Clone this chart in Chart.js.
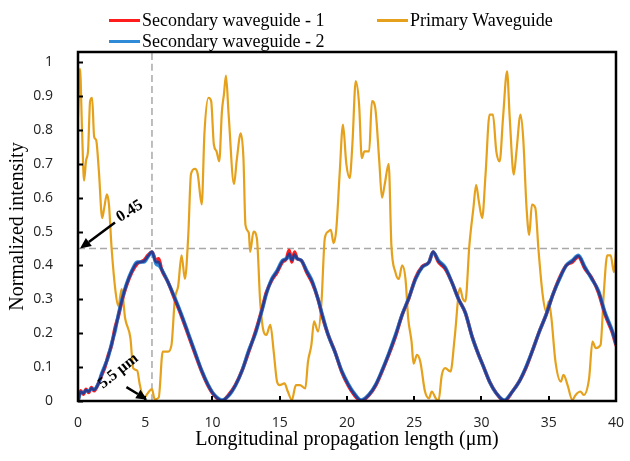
<!DOCTYPE html>
<html><head><meta charset="utf-8">
<script src="https://cdn.jsdelivr.net/npm/chart.js@4.4.1/dist/chart.umd.min.js"></script>
<style>
html,body{margin:0;padding:0;background:#fff;}
#wrap{position:relative;width:630px;height:461px;}
#c{position:absolute;left:0;top:0;}
.lg{position:absolute;font-family:"Liberation Serif","Times New Roman",serif;font-size:18px;color:#000;white-space:nowrap;line-height:20px;height:20px;}
.sw{display:inline-block;width:31px;height:3px;vertical-align:middle;margin-right:2px;position:relative;top:-1px;}
</style></head><body>
<div id="wrap"><canvas id="c" width="630" height="461"></canvas><div id="legend"></div></div>
<script>
// ---- data ----
const seriesNames = ["Secondary waveguide - 1", "Primary Waveguide", "Secondary waveguide - 2"];
const xTickValues = [0,5,10,15,20,25,30,35,40];
const yTickValues = [0,0.1,0.2,0.3,0.4,0.5,0.6,0.7,0.8,0.9,1];
const refLevel = 0.45;
const refX = 5.5;

const primaryX = [0,0.15,0.3,0.45,0.6,0.75,0.9,1.05,1.2,1.35,1.55,1.8,1.95,2.15,2.3,2.5,2.8,3.0,3.25,3.5,3.9,4.1,4.4,4.6,4.9,5.1,5.5,5.7,6.0,6.3,6.7,6.95,7.2,7.45,7.7,7.95,8.2,8.4,8.7,8.9,9.2,9.4,9.7,9.9,10.1,10.3,10.5,10.7,10.85,11.0,11.2,11.6,11.8,12.1,12.3,12.45,12.7,12.8,13.05,13.3,13.55,13.8,14.0,14.3,14.55,14.8,15.0,15.35,15.6,15.9,16.2,16.5,16.9,17.1,17.35,17.55,17.85,18.1,18.35,18.6,18.8,19.0,19.2,19.45,19.7,19.95,20.2,20.4,20.65,20.9,21.1,21.3,21.65,21.85,22.1,22.4,22.6,22.8,23.1,23.3,23.6,23.85,24.1,24.35,24.55,24.8,24.95,25.2,25.45,25.8,26.1,26.3,26.6,26.8,27.05,27.3,27.7,28.0,28.4,28.6,28.8,29.1,29.4,29.6,29.8,30.05,30.3,30.6,30.85,31.1,31.35,31.6,31.9,32.1,32.4,32.6,32.9,33.1,33.35,33.55,33.75,34.0,34.25,34.55,34.8,35.0,35.2,35.5,35.9,36.1,36.4,36.75,37.0,37.35,37.6,38.0,38.25,38.5,38.85,39.1,39.35,39.6,39.85,40.0];
const primaryY = [0.84,0.98,0.8,0.65,0.71,0.74,0.885,0.895,0.78,0.77,0.68,0.54,0.57,0.61,0.58,0.45,0.32,0.28,0.33,0.245,0.185,0.097,0.09,0.047,0.008,0.018,0.035,0.005,0.01,0.146,0.146,0.165,0.30,0.34,0.43,0.36,0.49,0.67,0.685,0.67,0.58,0.79,0.895,0.885,0.757,0.737,0.707,0.855,0.905,0.96,0.845,0.64,0.71,0.79,0.717,0.52,0.496,0.44,0.5,0.48,0.29,0.205,0.195,0.225,0.146,0.057,0.047,0.052,0.028,0.003,0.047,0.047,0.037,0.116,0.165,0.235,0.205,0.29,0.48,0.5,0.505,0.466,0.505,0.668,0.816,0.7,0.658,0.757,0.944,0.875,0.717,0.737,0.737,0.885,0.865,0.707,0.6,0.638,0.7,0.46,0.38,0.36,0.40,0.36,0.244,0.175,0.11,0.136,0.116,0.028,0.008,0.028,0.008,0.0,0.077,0.097,0.087,0.185,0.333,0.303,0.294,0.46,0.57,0.638,0.59,0.54,0.668,0.845,0.845,0.737,0.707,0.835,0.973,0.835,0.668,0.737,0.845,0.776,0.57,0.49,0.58,0.57,0.44,0.313,0.264,0.294,0.244,0.116,0.057,0.077,0.047,0.003,0.018,0.028,0.018,0.067,0.175,0.156,0.165,0.323,0.43,0.43,0.38,0.44];

const secX = [0,0.2,0.4,0.6,0.8,1.0,1.2,1.5,1.75,2.0,2.25,2.5,2.75,3.0,3.3,3.6,4.0,4.4,4.9,5.2,5.5,5.8,6.0,6.2,6.7,7.2,7.7,8.2,8.7,9.2,9.65,10.1,10.7,11.2,11.7,12.2,12.7,13.2,13.7,14.0,14.4,14.8,15.2,15.5,15.7,15.9,16.1,16.3,16.6,17.0,17.4,17.85,18.2,18.6,19.1,19.6,20.1,20.5,21.05,21.65,22.15,22.6,23.1,23.6,24.1,24.6,25.1,25.6,26.1,26.4,26.8,27.3,27.8,28.3,28.8,29.3,29.75,30.1,30.6,31.1,31.7,32.3,32.8,33.3,33.8,34.3,34.8,35.3,35.8,36.3,36.75,37.2,37.7,38.2,38.7,39.2,39.7,40];
const sec1 = [0,0.03,0.02,0.035,0.025,0.04,0.03,0.05,0.075,0.1,0.135,0.165,0.215,0.25,0.3,0.34,0.38,0.405,0.415,0.43,0.44,0.415,0.42,0.39,0.35,0.30,0.25,0.195,0.14,0.087,0.047,0.018,0,0.018,0.047,0.09,0.146,0.205,0.274,0.32,0.356,0.38,0.41,0.42,0.445,0.41,0.44,0.42,0.415,0.38,0.35,0.30,0.245,0.195,0.146,0.087,0.045,0.02,0,0.018,0.047,0.087,0.136,0.19,0.254,0.303,0.363,0.397,0.41,0.44,0.41,0.39,0.35,0.30,0.26,0.19,0.14,0.106,0.057,0.023,0,0.028,0.057,0.097,0.15,0.205,0.254,0.313,0.363,0.40,0.41,0.426,0.39,0.363,0.32,0.254,0.205,0.165];
const sec2 = [0,0.025,0.025,0.03,0.03,0.035,0.035,0.05,0.08,0.105,0.13,0.17,0.205,0.255,0.305,0.345,0.385,0.41,0.41,0.425,0.44,0.405,0.40,0.39,0.35,0.305,0.255,0.2,0.145,0.09,0.05,0.02,0.003,0.015,0.045,0.09,0.15,0.2,0.27,0.315,0.36,0.385,0.415,0.42,0.425,0.42,0.425,0.42,0.415,0.385,0.355,0.3,0.25,0.195,0.145,0.09,0.05,0.025,0.003,0.02,0.05,0.09,0.14,0.195,0.255,0.305,0.36,0.395,0.41,0.44,0.415,0.395,0.35,0.3,0.26,0.19,0.14,0.106,0.057,0.023,0.003,0.028,0.057,0.1,0.15,0.205,0.254,0.313,0.36,0.40,0.415,0.43,0.395,0.36,0.325,0.26,0.21,0.17];

// ---- styles ----
const colRed = '#FF1C1C', colOrange = '#E5A11C', colBlue = '#2F8AD8', colNavy = '#2D3A8E', colRef = '#A8A8A8';
const serif = '"Liberation Serif","Times New Roman",serif';
const sans = '"Open Sans","Noto Sans",sans-serif';

const toXY = (xs, ys) => xs.map((x, i) => ({x, y: ys[i]}));
const meanLine = sec1.map((v, i) => (v + sec2[i]) / 2);

// HTML legend
const legendItems = [
  {name: seriesNames[0], color: colRed, left: 109, top: 10},
  {name: seriesNames[1], color: colOrange, left: 377, top: 10},
  {name: seriesNames[2], color: colBlue, left: 109, top: 31}
];
const lgEl = document.getElementById('legend');
legendItems.forEach(it => {
  const d = document.createElement('div');
  d.className = 'lg';
  d.style.left = it.left + 'px'; d.style.top = it.top + 'px';
  const s = document.createElement('span'); s.className = 'sw'; s.style.background = it.color;
  d.appendChild(s); d.appendChild(document.createTextNode(it.name));
  lgEl.appendChild(d);
});

function arrow(ctx, x1, y1, x2, y2) {
  const ang = Math.atan2(y2 - y1, x2 - x1), L = 11, W = 5;
  const bx = x2 - L * Math.cos(ang), by = y2 - L * Math.sin(ang);
  ctx.beginPath(); ctx.moveTo(x1, y1); ctx.lineTo(bx, by); ctx.stroke();
  ctx.beginPath(); ctx.moveTo(x2, y2);
  ctx.lineTo(bx + W * Math.sin(ang), by - W * Math.cos(ang));
  ctx.lineTo(bx - W * Math.sin(ang), by + W * Math.cos(ang));
  ctx.closePath(); ctx.fill();
}

const framePlugin = {
  id: 'frame',
  afterDatasetsDraw(chart) {
    const {ctx, chartArea: a, scales: {x, y}} = chart;
    ctx.save();
    ctx.strokeStyle = '#000'; ctx.fillStyle = '#000';
    ctx.lineWidth = 2;
    yTickValues.forEach(v => {
      const py = Math.round(y.getPixelForValue(v)) + 0.5;
      ctx.beginPath(); ctx.moveTo(a.left, py); ctx.lineTo(a.left + 5, py); ctx.stroke();
    });
    xTickValues.forEach(v => {
      const px = Math.round(x.getPixelForValue(v));
      ctx.beginPath(); ctx.moveTo(px, a.bottom); ctx.lineTo(px, a.bottom - 5); ctx.stroke();
    });
    ctx.lineWidth = 2.5;
    ctx.strokeRect(a.left, a.top, a.right - a.left, a.bottom - a.top);
    // annotations
    ctx.lineWidth = 2.5;
    arrow(ctx, x.getPixelForValue(2.75), y.getPixelForValue(0.527), x.getPixelForValue(0.15), y.getPixelForValue(0.45));
    arrow(ctx, x.getPixelForValue(3.6), y.getPixelForValue(0.041), x.getPixelForValue(5.15), y.getPixelForValue(0.004));
    ctx.font = 'bold 16px ' + serif;
    ctx.textAlign = 'center'; ctx.textBaseline = 'middle';
    ctx.save();
    ctx.translate(x.getPixelForValue(3.85), y.getPixelForValue(0.56));
    ctx.rotate(-32 * Math.PI / 180);
    ctx.fillText('0.45', 0, 0);
    ctx.restore();
    ctx.save();
    ctx.translate(x.getPixelForValue(3.0), y.getPixelForValue(0.088));
    ctx.rotate(-39 * Math.PI / 180);
    ctx.fillText('5.5 \u03bcm', 0, 0);
    ctx.restore();
    ctx.restore();
  }
};

const lineDs = (label, data, color, width, order, extra) => Object.assign({
  label, data, borderColor: color, backgroundColor: color, borderWidth: width,
  pointRadius: 0, cubicInterpolationMode: 'monotone', fill: false, order,
  borderJoinStyle: 'round', borderCapStyle: 'round'
}, extra || {});

new Chart(document.getElementById('c'), {
  type: 'line',
  data: {
    datasets: [
      lineDs('ref-h', [{x: 0, y: refLevel}, {x: 40, y: refLevel}], colRef, 1.5, 6, {borderDash: [7, 4], borderCapStyle: 'butt'}),
      lineDs('ref-v', [{x: refX, y: 0}, {x: refX, y: 1.03}], colRef, 1.5, 6, {borderDash: [7, 4], borderCapStyle: 'butt'}),
      lineDs(seriesNames[1], toXY(primaryX, primaryY), colOrange, 2.2, 5),
      lineDs(seriesNames[0], toXY(secX, sec1), colRed, 3.5, 4),
      lineDs(seriesNames[2], toXY(secX, sec2), colBlue, 3.5, 3),
      lineDs('mean', toXY(secX, meanLine), colNavy, 2.6, 2)
    ]
  },
  options: {
    responsive: false, animation: false, devicePixelRatio: 1,
    layout: {padding: {top: 52, right: 9, left: 0, bottom: 0}},
    plugins: {legend: {display: false}, tooltip: {enabled: false}},
    scales: {
      x: {
        type: 'linear', min: 0, max: 40,
        afterBuildTicks: s => { s.ticks = xTickValues.map(v => ({value: v})); },
        afterFit: s => { s.height = 60; },
        grid: {display: false}, border: {display: false},
        ticks: {padding: 6, color: '#222', font: {family: sans, size: 14}, maxRotation: 0, callback: v => String(v)},
        title: {display: true, text: 'Longitudinal propagation length (\u03bcm)', color: '#000',
          font: {family: serif, size: 20}, padding: {top: 0, bottom: 9}}
      },
      y: {
        type: 'linear', min: 0, max: 1.03,
        afterBuildTicks: s => { s.ticks = yTickValues.map(v => ({value: v})); },
        afterFit: s => { s.width = 78; },
        grid: {display: false}, border: {display: false},
        ticks: {padding: 17, color: '#222', font: {family: sans, size: 14}, callback: v => String(Math.round(v * 10) / 10)},
        title: {display: true, text: 'Normalized intensity', color: '#000',
          font: {family: serif, size: 20}, padding: {top: 6, bottom: 0}}
      }
    }
  },
  plugins: [framePlugin]
});
</script>
</body></html>
